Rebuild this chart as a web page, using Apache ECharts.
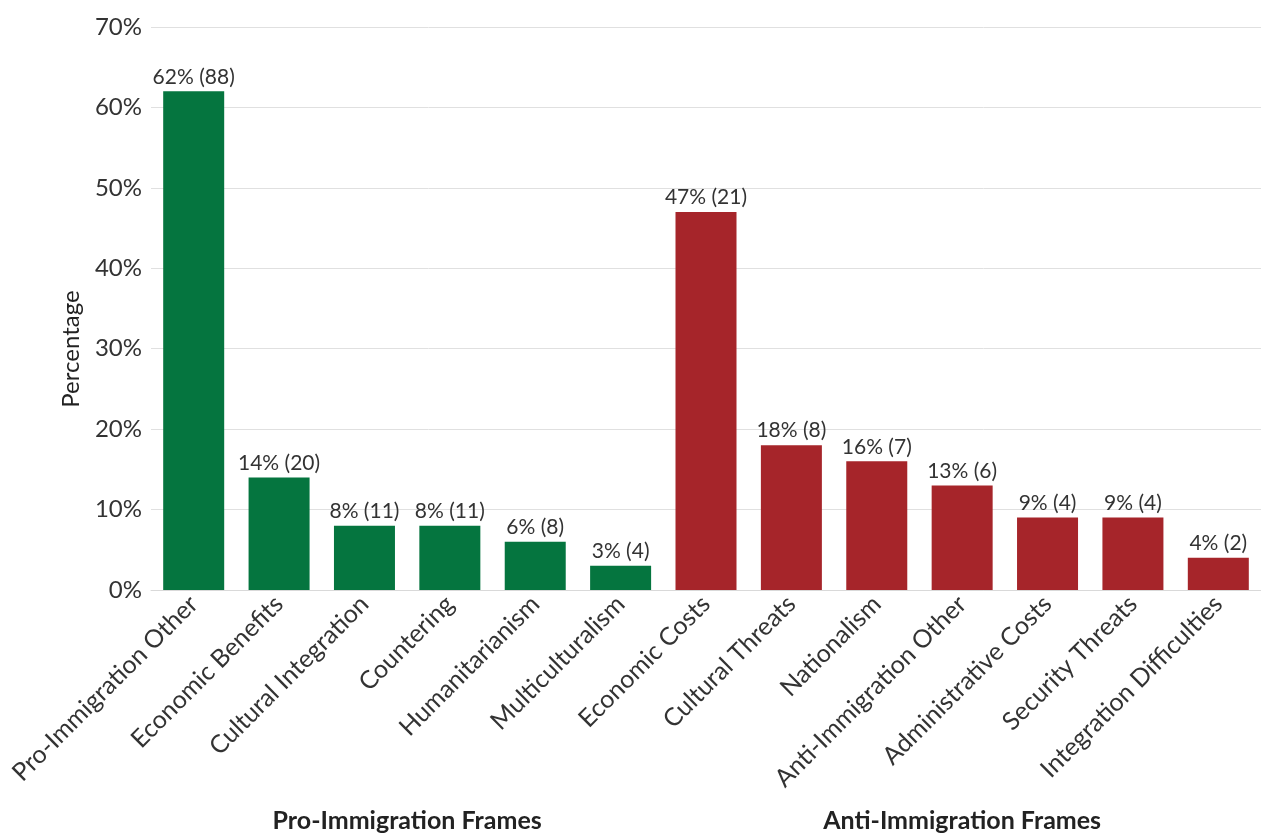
<!DOCTYPE html>
<html><head><meta charset="utf-8">
<script src="https://cdn.jsdelivr.net/npm/echarts@6/dist/echarts.min.js"></script>
<style>html,body{margin:0;padding:0;background:#fff}#c{width:1261px;height:834px}</style>
</head><body><div id="c"></div>
<script>
const categories = ['Pro-Immigration Other','Economic Benefits','Cultural Integration','Countering','Humanitarianism','Multiculturalism','Economic Costs','Cultural Threats','Nationalism','Anti-Immigration Other','Administrative Costs','Security Threats','Integration Difficulties'];
const percentages = [62,14,8,8,6,3,47,18,16,13,9,9,4];
const counts = [88,20,11,11,8,4,21,8,7,6,4,4,2];
const groups = ['pro','pro','pro','pro','pro','pro','anti','anti','anti','anti','anti','anti','anti'];
const groupNames = ['Pro-Immigration Frames','Anti-Immigration Frames'];
const yTicks = [0,10,20,30,40,50,60,70];
const yTitle = 'Percentage';
const colors = {pro:'#05753F', anti:'#A6252A'};
const FONT = 'Lato';

const chart = echarts.init(document.getElementById('c'));
chart.setOption({
  animation:false,
  grid:{left:151,right:0,top:27,bottom:244,containLabel:false},
  xAxis:{type:'category',data:categories,
    axisLine:{lineStyle:{color:'#d9d9d9'}},axisTick:{show:false},
    axisLabel:{rotate:45,interval:0,fontFamily:FONT,fontSize:25,color:'#333',margin:10}},
  yAxis:{type:'value',min:yTicks[0],max:yTicks[yTicks.length-1],interval:10,
    axisLabel:{formatter:'{value}%',fontFamily:FONT,fontSize:24,color:'#333',margin:9},
    axisLine:{show:false},axisTick:{show:false},
    splitLine:{lineStyle:{color:'#e0e0e0'}}},
  series:[{type:'bar',barWidth:61,
    data:percentages.map((v,i)=>({value:v,itemStyle:{color:colors[groups[i]]}})),
    label:{show:true,position:'top',distance:4,fontFamily:FONT,fontSize:21,color:'#333',
      formatter:p=>p.value+'% ('+counts[p.dataIndex]+')'}}]
});
const idx = g => groups.map((x,i)=>x===g?i:-1).filter(i=>i>=0);
const texts = ['pro','anti'].map((g,k)=>{
  const ids = idx(g);
  const x0 = chart.convertToPixel({xAxisIndex:0}, categories[ids[0]]);
  const x1 = chart.convertToPixel({xAxisIndex:0}, categories[ids[ids.length-1]]);
  return {type:'text',x:(x0+x1)/2,y:821,style:{text:groupNames[k],fontFamily:FONT,fontSize:25,fontWeight:'bold',fill:'#222',align:'center',verticalAlign:'middle'}};
});
texts.push({type:'text',x:71,y:349,rotation:Math.PI/2,style:{text:yTitle,fontFamily:FONT,fontSize:24,fill:'#222',align:'center',verticalAlign:'middle'}});
chart.setOption({graphic:texts});
</script></body></html>
